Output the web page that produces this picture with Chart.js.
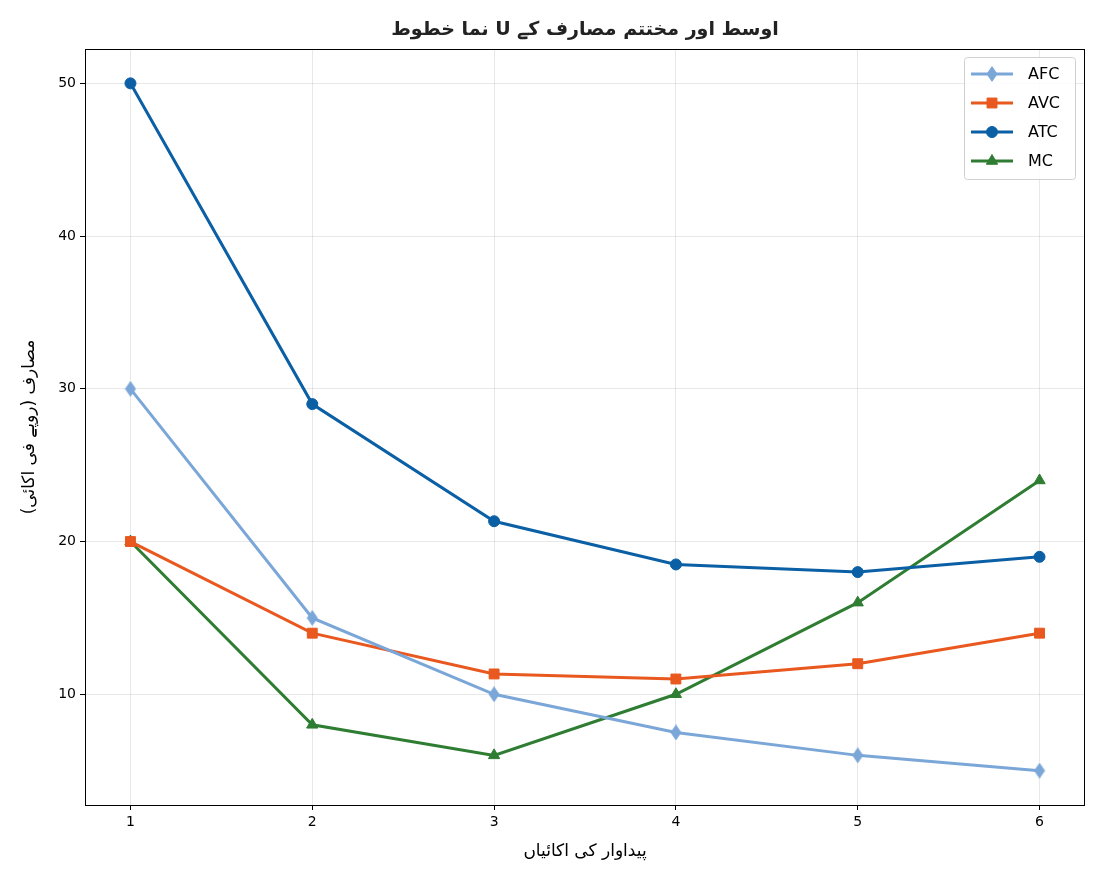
<!DOCTYPE html>
<html>
<head>
<meta charset="utf-8">
<script src="https://cdn.jsdelivr.net/npm/chart.js@4"></script>
<style>
  body { margin: 0; background: #fff; }
  #costChart { display: block; }
</style>
</head>
<body>
<canvas id="costChart" width="1105" height="884"></canvas>
<script>
    const units = [1, 2, 3, 4, 5, 6];
    const afc = [30, 15, 10, 7.5, 6, 5];
    const avc = [20, 14, 11.33, 11, 12, 14];
    const atc = [50, 29, 21.33, 18.5, 18, 19];
    const mc = [20, 8, 6, 10, 16, 24];
    const yTicks = [10, 20, 30, 40, 50];

    const chartTitle = 'اوسط اور مختتم مصارف کے U نما خطوط';
    const xTitle = 'پیداوار کی اکائیاں';
    const yTitle = 'مصارف (روپے فی اکائی)';

    // matplotlib style thin diamond
    function thinDiamond(color) {
      const c = document.createElement('canvas');
      c.width = 12; c.height = 16;
      const g = c.getContext('2d');
      g.fillStyle = color;
      g.beginPath();
      g.moveTo(6, 0); g.lineTo(11.5, 8); g.lineTo(6, 16); g.lineTo(0.5, 8);
      g.closePath();
      g.fill();
      return c;
    }

    const toPoints = arr => arr.map((v, i) => ({ x: units[i], y: v }));

    const series = [
      { label: 'AFC', data: afc, color: '#7ba6d8', style: thinDiamond('#7ba6d8'), radius: 6 },
      { label: 'AVC', data: avc, color: '#e8581f', style: 'rect', radius: 7 },
      { label: 'ATC', data: atc, color: '#0b5fa5', style: 'circle', radius: 5.5 },
      { label: 'MC', data: mc, color: '#2e7d32', style: 'triangle', radius: 6.5 }
    ];

    const framePlugin = {
      id: 'frame',
      afterDraw(chart) {
        const ctx = chart.ctx;
        const a = chart.chartArea;
        ctx.save();
        ctx.strokeStyle = '#000';
        ctx.lineWidth = 1;
        ctx.strokeRect(a.left + 0.5, a.top + 0.5, a.right - a.left - 1, a.bottom - a.top);

        // titles, right-to-left
        ctx.direction = 'rtl';
        ctx.textAlign = 'center';
        ctx.textBaseline = 'middle';
        ctx.fillStyle = '#222';
        ctx.font = 'bold 19px "DejaVu Sans"';
        ctx.fillText(chartTitle, (a.left + a.right) / 2, 30);

        ctx.fillStyle = '#000';
        ctx.font = '17px "DejaVu Sans"';
        ctx.fillText(xTitle, (a.left + a.right) / 2, 852);

        ctx.save();
        ctx.translate(30, (a.top + a.bottom) / 2);
        ctx.rotate(-Math.PI / 2);
        ctx.fillText(yTitle, 0, 0);
        ctx.restore();
        ctx.direction = 'ltr';

        // legend
        const lx = 964, ly = 57, lw = 111, lh = 122;
        ctx.fillStyle = 'rgba(255,255,255,0.85)';
        ctx.strokeStyle = '#d0d0d0';
        ctx.lineWidth = 1;
        ctx.beginPath();
        ctx.roundRect(lx + 0.5, ly + 0.5, lw, lh, 3);
        ctx.fill();
        ctx.stroke();
        series.forEach((s, i) => {
          const y = ly + 17 + i * 29;
          ctx.strokeStyle = s.color;
          ctx.lineWidth = 3;
          ctx.beginPath();
          ctx.moveTo(971, y); ctx.lineTo(1013, y);
          ctx.stroke();
          ctx.fillStyle = s.color;
          ctx.lineWidth = 1;
          Chart.helpers.drawPoint(ctx, { pointStyle: s.style, radius: s.radius, borderWidth: 1, rotation: 0 }, 992, y);
          ctx.fillStyle = '#000';
          ctx.font = '16px "DejaVu Sans"';
          ctx.textAlign = 'left';
          ctx.fillText(s.label, 1028, y + 1);
        });
        ctx.restore();
      }
    };

    const chart = new Chart(document.getElementById('costChart').getContext('2d'), {
      type: 'line',
      data: {
        datasets: series.map(s => ({
          label: s.label,
          data: toPoints(s.data),
          borderColor: s.color,
          backgroundColor: s.color,
          pointBackgroundColor: s.color,
          pointBorderColor: s.color,
          pointBorderWidth: 1,
          pointStyle: s.style,
          pointRadius: s.radius,
          borderWidth: 3,
          tension: 0
        }))
      },
      options: {
        responsive: false,
        animation: false,
        layout: { padding: { top: 49, right: 20, left: 0, bottom: 0 } },
        plugins: {
          legend: { display: false },
          title: { display: false },
          tooltip: { enabled: false }
        },
        scales: {
          x: {
            type: 'linear',
            min: 0.75,
            max: 6.25,
            afterBuildTicks: s => { s.ticks = units.map(v => ({ value: v })); },
            afterFit: s => { s.height = 79; },
            grid: { color: 'rgba(0,0,0,0.09)', tickColor: '#000', tickLength: 5 },
            border: { display: false },
            ticks: { color: '#000', font: { size: 14, family: 'DejaVu Sans' }, padding: 4, maxRotation: 0 },
            title: { display: false }
          },
          y: {
            min: 2.75,
            max: 52.25,
            afterBuildTicks: s => { s.ticks = yTicks.map(v => ({ value: v })); },
            afterFit: s => { s.width = 85; },
            grid: { color: 'rgba(0,0,0,0.09)', tickColor: '#000', tickLength: 5 },
            border: { display: false },
            ticks: { color: '#000', font: { size: 14, family: 'DejaVu Sans' }, padding: 4 },
            title: { display: false }
          }
        }
      },
      plugins: [framePlugin]
    });
</script>
</body>
</html>
